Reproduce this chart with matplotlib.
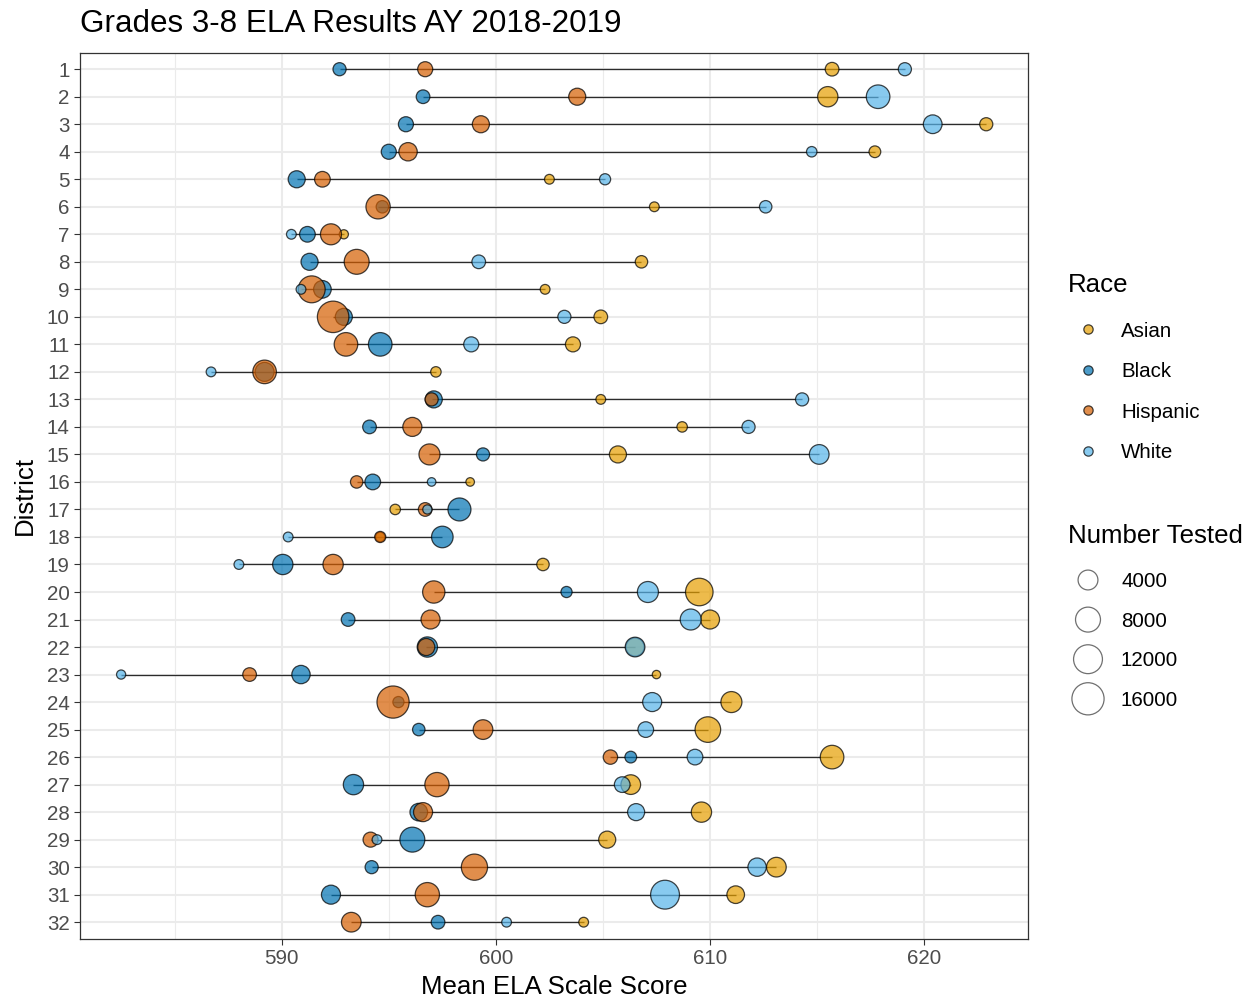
import matplotlib
matplotlib.use("Agg")
import matplotlib.pyplot as plt
import numpy as np

plt.rcParams['font.family'] = ['Liberation Sans', 'DejaVu Sans']

# ---------------- data ----------------
title = "Grades 3-8 ELA Results AY 2018-2019"
x_label = "Mean ELA Scale Score"
y_label = "District"
districts = list(range(1, 33))
races = ["Asian", "Black", "Hispanic", "White"]

asian_score = [615.7, 615.5, 622.9, 617.7, 602.5, 607.4, 592.9, 606.8, 602.3, 604.9,
               603.6, 597.2, 604.9, 608.7, 605.7, 598.8, 595.3, 594.6, 602.2, 609.5,
               610.0, 606.5, 607.5, 611.0, 609.9, 615.7, 606.3, 609.6, 605.2, 613.1,
               611.2, 604.1]
asian_n = [1000, 4300, 830, 470, 135, 135, 74, 640, 135, 1000,
           1500, 230, 135, 230, 2400, 30, 230, 100, 640, 10550,
           3500, 3000, 20, 4800, 8600, 6800, 3900, 4300, 2400, 3900,
           2700, 135]

black_score = [592.7, 596.6, 595.8, 595.0, 590.7, 594.7, 591.2, 591.3, 591.9, 592.9,
               594.6, 589.2, 597.1, 594.1, 599.4, 594.25, 598.3, 597.5, 590.05, 603.3,
               593.1, 596.8, 590.9, 595.45, 596.4, 606.3, 593.35, 596.4, 596.1, 594.2,
               592.3, 597.3]
black_n = [830, 1000, 1500, 1500, 2400, 640, 1760, 2400, 2700, 2400,
           6800, 3500, 2400, 1000, 830, 1760, 6300, 5200, 4300, 350,
           1000, 4300, 3100, 350, 640, 470, 4300, 2700, 8000, 830,
           3500, 1000]

hispanic_score = [596.7, 603.8, 599.3, 595.9, 591.9, 594.5, 592.3, 593.5, 591.4, 592.4,
                  593.0, 589.2, 597.0, 596.1, 596.9, 593.5, 596.7, 594.6, 592.4, 597.1,
                  596.95, 596.75, 588.5, 595.2, 599.4, 605.35, 597.25, 596.6, 594.15, 599.0,
                  596.8, 593.25]
hispanic_n = [1500, 2400, 2400, 3100, 1760, 7400, 4800, 8000, 9900, 15100,
              6800, 6800, 830, 3500, 4800, 640, 1000, 350, 4300, 5760,
              3500, 2400, 1000, 16000, 3900, 1250, 7400, 3500, 1500, 9200,
              7400, 3900]

white_score = [619.1, 617.85, 620.4, 614.75, 605.1, 612.6, 590.45, 599.2, 590.9, 603.2,
               598.85, 586.7, 614.3, 611.8, 615.1, 597.0, 596.8, 590.3, 588.0, 607.1,
               609.1, 606.5, 582.5, 607.3, 607.0, 609.3, 605.9, 606.55, 594.45, 612.2,
               607.9, 600.5]
white_n = [830, 6800, 3300, 230, 350, 640, 135, 1000, 135, 830,
           1500, 135, 830, 830, 3900, 30, 74, 135, 135, 4800,
           4800, 3900, 74, 3500, 1760, 1760, 1760, 2400, 135, 3100,
           12000, 135]

x_ticks = [590, 600, 610, 620]
x_minor = [585, 595, 605, 615]
legend_sizes = [4000, 8000, 12000, 16000]

scores = {"Asian": asian_score, "Black": black_score,
          "Hispanic": hispanic_score, "White": white_score}
counts = {"Asian": asian_n, "Black": black_n,
          "Hispanic": hispanic_n, "White": white_n}
colors = {"Asian": "#E69F00", "Black": "#0072B2",
          "Hispanic": "#D55E00", "White": "#56B4E9"}

# ---------------- layout ----------------
W, H = 1257, 998
fig = plt.figure(figsize=(W / 100, H / 100), dpi=100)
pl, pr, pt_, pb = 80, 1028, 52.7, 938.7
ax = fig.add_axes([pl / W, 1 - pb / H, (pr - pl) / W, (pb - pt_) / H])


def size_area(n):
    d_px = 7.5 + 0.195 * np.sqrt(np.asarray(n, dtype=float))
    return (d_px * 0.72) ** 2


alpha = 0.7
edge = (0, 0, 0, 0.72)

all_scores = np.array([scores[r] for r in races])
ax.hlines(districts, all_scores.min(axis=0), all_scores.max(axis=0),
          color="#2b2b2b", lw=0.95, zorder=2)

for i, r in enumerate(races):
    ax.scatter(scores[r], districts, s=size_area(counts[r]),
               facecolor=matplotlib.colors.to_rgba(colors[r], alpha),
               edgecolor=edge, linewidth=0.9, zorder=3 + i)

ax.set_xlim(580.58, 624.85)
ax.set_ylim(32.6, 0.4)
ax.set_xticks(x_ticks)
ax.set_xticks(x_minor, minor=True)
ax.set_yticks(districts)
ax.set_yticklabels([str(d) for d in districts])
ax.set_axisbelow(True)
ax.grid(which="major", color="#EBEBEB", lw=1.5)
ax.grid(which="minor", axis="x", color="#EBEBEB", lw=0.8)
ax.tick_params(which="major", length=4.3, width=0.8, color="#333333",
               labelsize=14.8, labelcolor="#4D4D4D", pad=3)
ax.tick_params(which="minor", length=0)
for sp in ax.spines.values():
    sp.set_color("#333333")
    sp.set_linewidth(0.9)

fig.text(80 / W, 1 - 32 / H, title, fontsize=22.6, ha="left", va="baseline")
fig.text((pl + pr) / 2 / W, 1 - 994 / H, x_label, fontsize=18.6, ha="center", va="baseline")
fig.text(25 / W, 1 - ((pt_ + pb) / 2) / H, y_label, fontsize=18.6, rotation=90,
         ha="center", va="center")

# ---------------- legends ----------------
lax = fig.add_axes([0, 0, 1, 1])
lax.set_xlim(0, W)
lax.set_ylim(H, 0)
lax.axis("off")

key_x, lab_x = 1088, 1121
lax.text(1068, 291.7, "Race", fontsize=18.6, ha="left", va="baseline")
race_y0, race_dy = 329.3, 40.5
for i, r in enumerate(races):
    y = race_y0 + i * race_dy
    lax.scatter([key_x], [y], s=(9.3 * 0.72) ** 2,
                facecolor=matplotlib.colors.to_rgba(colors[r], alpha),
                edgecolor=edge, linewidth=0.9)
    lax.text(lab_x, y + 7.3, r, fontsize=14.8, ha="left", va="baseline")

lax.text(1068, 543.3, "Number Tested", fontsize=18.6, ha="left", va="baseline")
size_y0, size_dy = 580, 39.6
for i, n in enumerate(legend_sizes):
    y = size_y0 + i * size_dy
    lax.scatter([key_x], [y], s=size_area(n), facecolor="none",
                edgecolor=(0.25, 0.25, 0.25, 0.75), linewidth=0.9)
    lax.text(lab_x, y + 7.3, str(n), fontsize=14.8, ha="left", va="baseline")

fig.savefig("out.png", dpi=100)
